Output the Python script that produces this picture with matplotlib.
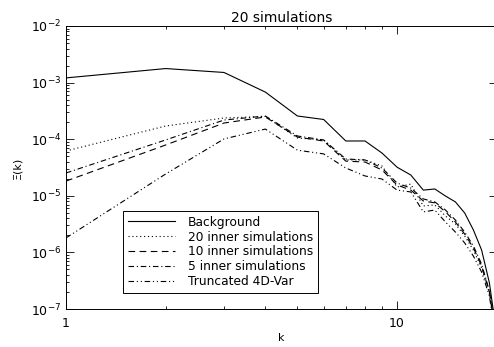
import matplotlib
matplotlib.use("Agg")
import matplotlib.pyplot as plt
import numpy as np
from matplotlib.ticker import LogLocator, NullFormatter, FixedLocator, FixedFormatter

# wavenumbers and spectra
k = np.arange(1, 21)

background = [1.21e-3, 1.77e-3, 1.51e-3, 6.8e-4, 2.57e-4, 2.23e-4, 9.3e-5, 9.3e-5, 5.7e-5, 3.2e-5,
              2.33e-5, 1.26e-5, 1.32e-5, 9.9e-6, 7.8e-6, 4.97e-6, 2.49e-6, 1.10e-6, 2.9e-7, 3.5e-8]
inner20 = [6.2e-5, 1.71e-4, 2.37e-4, 2.52e-4, 1.05e-4, 9.7e-5, 4.3e-5, 4.3e-5, 3.37e-5, 1.43e-5,
           1.61e-5, 6.6e-6, 6.9e-6, 4.4e-6, 3.18e-6, 1.95e-6, 1.10e-6, 5.3e-7, 1.92e-7, 2.8e-8]
inner10 = [1.82e-5, 7.9e-5, 1.93e-4, 2.47e-4, 1.09e-4, 9.3e-5, 4.1e-5, 3.95e-5, 2.86e-5, 1.55e-5,
           1.26e-5, 8.1e-6, 7.5e-6, 5.2e-6, 3.44e-6, 2.11e-6, 1.20e-6, 5.75e-7, 2.0e-7, 2.8e-8]
inner5 = [2.53e-5, 9.7e-5, 2.18e-4, 2.57e-4, 1.14e-4, 9.7e-5, 4.47e-5, 4.3e-5, 3.1e-5, 1.68e-5,
          1.37e-5, 8.8e-6, 7.8e-6, 5.6e-6, 3.73e-6, 2.29e-6, 1.30e-6, 6.2e-7, 2.08e-7, 2.8e-8]
truncated = [1.80e-6, 2.43e-5, 1.01e-4, 1.51e-4, 6.4e-5, 5.5e-5, 3.1e-5, 2.24e-5, 1.98e-5, 1.26e-5,
             1.17e-5, 5.2e-6, 5.6e-6, 3.44e-6, 2.29e-6, 1.47e-6, 8.6e-7, 4.5e-7, 1.70e-7, 2.3e-8]

labels = ["Background", "20 inner simulations", "10 inner simulations",
          "5 inner simulations", "Truncated 4D-Var"]

plt.rcParams["font.family"] = "DejaVu Sans"
plt.rcParams["mathtext.default"] = "regular"

fig = plt.figure(figsize=(4.94, 3.47), dpi=100)
ax = fig.add_axes([0.1336, 0.1095, 0.872, 0.8156])

lw = 0.8
ax.plot(k, background, color="black", lw=lw, ls="-", label=labels[0])
ax.plot(k, inner20, color="black", lw=lw, ls=(0, (1, 2.5)), label=labels[1])
ax.plot(k, inner10, color="black", lw=lw, ls=(0, (6, 4)), label=labels[2])
ax.plot(k, inner5, color="black", lw=lw, ls=(0, (5, 2.5, 1, 2.5)), label=labels[3])
ax.plot(k, truncated, color="black", lw=lw, ls=(0, (5, 2.5, 1, 2.5, 1, 2.5)), label=labels[4])

ax.set_xscale("log")
ax.set_yscale("log")
ax.set_xlim(1, 20)
ax.set_ylim(1e-7, 1e-2)

ax.xaxis.set_major_locator(FixedLocator([1, 10]))
ax.xaxis.set_major_formatter(FixedFormatter(["1", "10"]))
ax.xaxis.set_minor_locator(LogLocator(base=10, subs=np.arange(2, 10)))
ax.xaxis.set_minor_formatter(NullFormatter())
ax.yaxis.set_major_locator(LogLocator(base=10, numticks=10))
ax.yaxis.set_minor_locator(LogLocator(base=10, subs=np.arange(2, 10), numticks=10))
ax.yaxis.set_minor_formatter(NullFormatter())

ax.tick_params(which="both", direction="in", top=True, right=True, width=0.6, labelsize=9)
ax.tick_params(which="major", length=6)
ax.tick_params(which="minor", length=2.5)
ax.tick_params(axis="x", pad=6)
for s in ax.spines.values():
    s.set_linewidth(0.7)

ax.set_title("20 simulations", fontsize=10, pad=3)
ax.set_xlabel("k", fontsize=8, labelpad=2)
ax.set_ylabel("Ξ(k)", fontsize=8, labelpad=6)

leg = ax.legend(loc="lower left", bbox_to_anchor=(0.118, 0.035), fontsize=8.8,
                handlelength=3.9, handletextpad=1.0, labelspacing=0.15,
                borderpad=0.4, fancybox=False, framealpha=1, edgecolor="black")
leg.get_frame().set_linewidth(0.7)

fig.savefig("out.png", dpi=100)
